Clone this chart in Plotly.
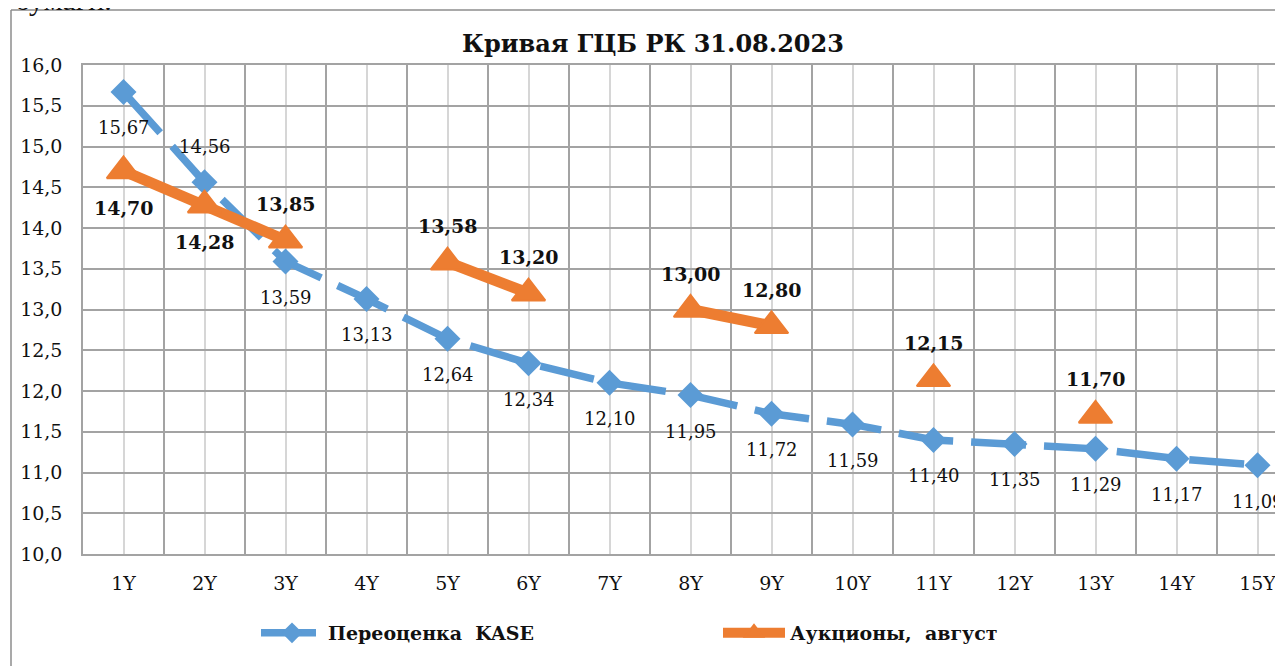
import plotly.graph_objects as go

# ---------------- data ----------------
tenors = ["1Y", "2Y", "3Y", "4Y", "5Y", "6Y", "7Y", "8Y", "9Y", "10Y", "11Y", "12Y", "13Y", "14Y", "15Y"]
kase_values = [15.67, 14.56, 13.59, 13.13, 12.64, 12.34, 12.10, 11.95, 11.72, 11.59, 11.40, 11.35, 11.29, 11.17, 11.09]
auction_values = [14.70, 14.28, 13.85, None, 13.58, 13.20, None, 13.00, 12.80, None, 12.15, None, 11.70, None, None]
kase_label_side = ["below", "above", "below", "below", "below", "below", "below", "below",
                   "below", "below", "below", "below", "below", "below", "below"]
auction_label_side = ["below", "below", "above", None, "above", "above", None, "above", "above",
                      None, "above", None, "above", None, None]
series_names = ["Переоценка\u00a0\u00a0KASE", "Аукционы,\u00a0\u00a0август"]
title_text = "Кривая ГЦБ РК 31.08.2023"
y_ticks = [10.0, 10.5, 11.0, 11.5, 12.0, 12.5, 13.0, 13.5, 14.0, 14.5, 15.0, 15.5, 16.0]
header_fragment = "бумаги."

# ---------------- style ----------------
FONT = "DejaVu Serif"
BLUE = "#5B9BD5"
ORANGE = "#ED7D31"
GRID_DARK = "#a3a3a3"
GRID_LIGHT = "#d6d6d6"

OFF = 8  # page body margin of the browser
W, H = 1283 - OFF, 666 - OFF
ML, MR, MT, MB = 83 - OFF, 0, 65 - OFF, 112
plot_w = W - ML - MR
plot_h = H - MT - MB


def px_to_paper_x(sx):
    return (sx - OFF - ML) / plot_w


def px_to_paper_y(sy):
    return (MT + plot_h - (sy - OFF)) / plot_h


xs = list(range(len(tenors)))
x_max = -0.5 + plot_w / 81.0


def fmt(v):
    return f"{v:.2f}".replace(".", ",")


fig = go.Figure()

fig.add_trace(go.Scatter(
    x=xs, y=kase_values, name=series_names[0], mode="lines+markers",
    line=dict(color=BLUE, width=7.5, dash="55px,18px"),
    marker=dict(symbol="diamond", size=20, color=BLUE),
    hoverinfo="skip",
))
fig.add_trace(go.Scatter(
    x=xs, y=auction_values, name=series_names[1], mode="lines+markers",
    line=dict(color=ORANGE, width=11), connectgaps=False,
    marker=dict(symbol="triangle-up", size=29, color=ORANGE, line=dict(color=ORANGE, width=2)),
    hoverinfo="skip",
))

annotations = []
for x, v, side in zip(xs, kase_values, kase_label_side):
    annotations.append(dict(
        x=x, y=v, xref="x", yref="y", text=fmt(v), showarrow=False,
        yshift=36 if side == "above" else -36,
        font=dict(family=FONT, size=18, color="#111111"),
    ))
for x, v, side in zip(xs, auction_values, auction_label_side):
    if v is None:
        continue
    annotations.append(dict(
        x=x, y=v, xref="x", yref="y", text=fmt(v), showarrow=False,
        yshift=36 if side == "above" else -37,
        font=dict(family=FONT, size=19, color="#111111", weight="bold"),
    ))
# cropped text from the surrounding page
annotations.append(dict(
    x=px_to_paper_x(13), y=px_to_paper_y(18), xref="paper", yref="paper",
    xanchor="left", yanchor="bottom", text=header_fragment, showarrow=False,
    font=dict(family="Liberation Serif", size=30, color="#111111"),
))

# outer chart frame (left and top edges visible)
fx = px_to_paper_x(11)
fy = px_to_paper_y(10)
shapes = [
    dict(type="line", xref="paper", yref="paper", x0=fx, x1=fx, y0=fy, y1=-0.3,
         line=dict(color="#8c8c8c", width=1.5)),
    dict(type="line", xref="paper", yref="paper", x0=fx, x1=1.05, y0=fy, y1=fy,
         line=dict(color="#8c8c8c", width=1.5)),
]

fig.update_layout(
    width=W, height=H,
    margin=dict(l=ML, r=MR, t=MT, b=MB),
    paper_bgcolor="white", plot_bgcolor="white",
    separators=", ",
    title=dict(text=title_text, x=(653 - OFF) / W, xref="container", xanchor="center",
               y=1 - (44 - OFF) / H, yref="container", yanchor="middle",
               font=dict(family=FONT, size=24, color="#111111", weight="bold")),
    xaxis=dict(
        range=[-0.5, x_max], tickmode="array", tickvals=xs, ticktext=tenors,
        showgrid=True, gridcolor=GRID_LIGHT, gridwidth=1.5, zeroline=False,
        showline=True, linecolor=GRID_DARK, linewidth=1.5, mirror=True,
        ticks="", ticklabelstandoff=11, automargin=False,
        tickfont=dict(family=FONT, size=19, color="#111111"),
        minor=dict(tickmode="array", tickvals=[i - 0.5 for i in range(len(tenors) + 1)],
                   showgrid=True, gridcolor=GRID_DARK, gridwidth=1.5, ticks=""),
    ),
    yaxis=dict(
        range=[10, 16], tickmode="array", tickvals=y_ticks, tickformat=".1f",
        showgrid=True, gridcolor=GRID_DARK, gridwidth=1.5, zeroline=False,
        showline=True, linecolor=GRID_DARK, linewidth=1.5, mirror=True,
        ticks="", ticklabelstandoff=15, automargin=False,
        tickfont=dict(family=FONT, size=19, color="#111111"),
    ),
    legend=dict(
        orientation="h", x=px_to_paper_x(256), xanchor="left",
        y=px_to_paper_y(633), yanchor="middle",
        itemwidth=62, entrywidth=385, entrywidthmode="pixels",
        font=dict(family=FONT, size=19, color="#111111", weight="bold"),
        bgcolor="rgba(0,0,0,0)", traceorder="normal",
    ),
    annotations=annotations,
    shapes=shapes,
    showlegend=True,
)

fig.write_html("out.html")
